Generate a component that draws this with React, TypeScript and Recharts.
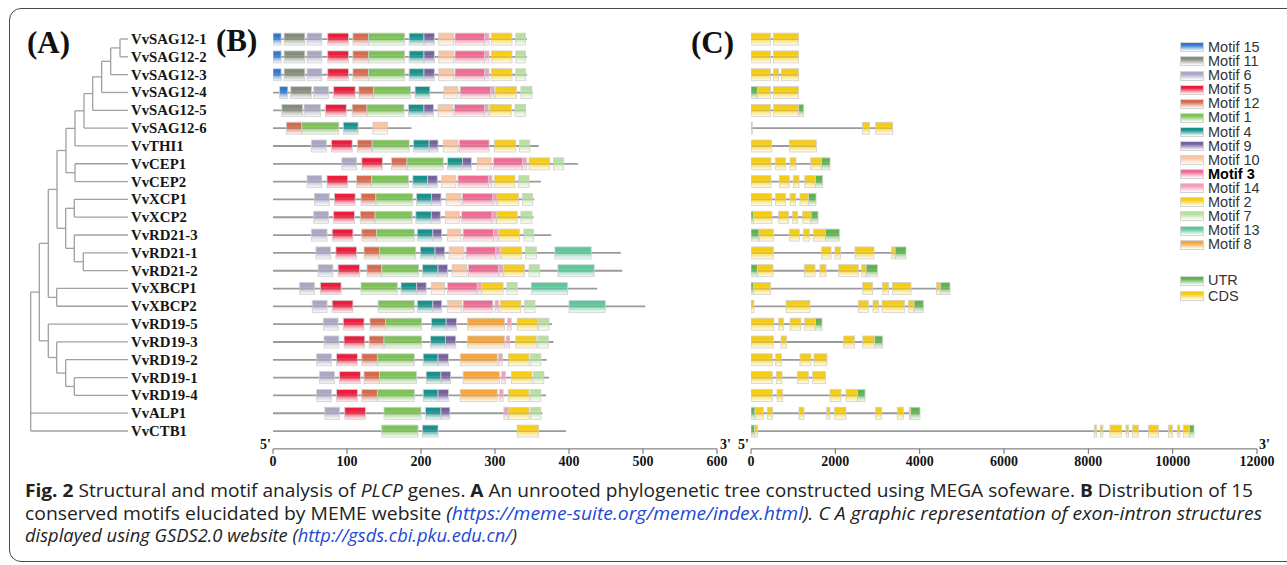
import React from "react";
import { BarChart, Bar, XAxis, YAxis, ScatterChart, Scatter, Legend } from "recharts";

const genes = [
  "VvSAG12-1", "VvSAG12-2", "VvSAG12-3", "VvSAG12-4", "VvSAG12-5", "VvSAG12-6",
  "VvTHI1", "VvCEP1", "VvCEP2", "VvXCP1", "VvXCP2", "VvRD21-3", "VvRD21-1",
  "VvRD21-2", "VvXBCP1", "VvXBCP2", "VvRD19-5", "VvRD19-3", "VvRD19-2",
  "VvRD19-1", "VvRD19-4", "VvALP1", "VvCTB1",
];

// protein length (aa)
const proteinLength = [343, 343, 343, 351, 342, 187, 359, 412, 362, 353, 352, 376, 470, 472, 438, 503, 377, 379, 370, 373, 369, 364, 396];

type R = [number, number] | null;
const _ = null;

const motif15: R[] = [[0, 11], [0, 11], [0, 11], [9, 20], _, _, _, _, _, _, _, _, _, _, _, _, _, _, _, _, _, _, _];
const motif11: R[] = [[15, 43], [15, 43], [15, 43], [24, 52], [12, 40], _, _, _, _, _, _, _, _, _, _, _, _, _, _, _, _, _, _];
const motif6: R[] = [[46, 66], [46, 66], [46, 66], [55, 75], [42, 64], _, [52, 72], [93, 113], [46, 66], [56, 76], [55, 75], [52, 73], [58, 78], [61, 81], [36, 56], [53, 73], [68, 88], [69, 89], [59, 79], [63, 83], [59, 79], [70, 90], _];
const motif5: R[] = [[74, 102], [74, 102], [74, 102], [82, 111], [71, 99], _, [79, 107], [120, 148], [73, 101], [83, 111], [82, 110], [80, 108], [85, 113], [88, 117], [64, 92], [80, 108], [95, 123], [96, 124], [86, 114], [90, 118], [86, 114], [97, 125], _];
const motif12: R[] = [[108, 129], [108, 129], [108, 129], [116, 136], [107, 127], [18, 39], [114, 134], [160, 181], [113, 133], [119, 139], [118, 138], [120, 140], [123, 144], [127, 147], _, _, [131, 152], [130, 150], [120, 141], [123, 144], [120, 141], _, _];
const motif1: R[] = [[129, 178], [129, 178], [129, 178], [136, 186], [127, 177], [39, 89], [134, 184], [181, 230], [133, 183], [139, 189], [138, 188], [140, 191], [144, 193], [147, 197], [119, 168], [142, 191], [152, 201], [150, 201], [141, 191], [144, 194], [141, 191], [150, 200], [147, 196]];
const motif4: R[] = [[184, 204], [184, 204], [184, 204], [192, 212], [183, 204], [95, 115], [190, 211], [236, 256], [189, 209], [194, 214], [193, 214], [195, 216], [199, 219], [202, 223], [173, 194], [195, 216], [214, 234], [213, 233], [203, 223], [207, 227], [203, 223], [206, 227], [202, 223]];
const motif9: R[] = [[204, 218], [204, 218], [204, 218], _, [204, 217], _, [211, 223], [256, 268], [209, 222], [214, 227], [214, 226], [216, 228], [219, 232], [223, 236], [194, 207], [216, 228], [234, 248], [233, 247], [223, 237], [227, 240], [223, 237], [227, 239], _];
const motif10: R[] = [[224, 244], [224, 244], [224, 244], [231, 250], [223, 243], [135, 155], [230, 250], [276, 295], [228, 247], [234, 254], [233, 252], [236, 254], [238, 258], [242, 262], [214, 232], [236, 255], _, _, _, _, _, _, _];
const motif3: R[] = [[246, 286], [246, 286], [246, 286], [253, 294], [245, 286], _, [252, 292], [298, 337], [250, 291], [256, 297], [255, 296], [257, 298], [261, 301], [264, 305], [236, 276], [257, 297], _, _, _, _, _, _, _];
const motif14: R[] = [[286, 292], [286, 292], [286, 292], [294, 299], [286, 291], _, _, [337, 343], [291, 296], [297, 303], [296, 302], [298, 304], [301, 307], [305, 311], [276, 282], [300, 305], [317, 322], [315, 320], [305, 310], [309, 314], [306, 311], [312, 318], _];
const motif2: R[] = [[295, 323], [295, 323], [295, 323], [301, 329], [293, 322], _, [299, 328], [346, 374], [299, 327], [303, 332], [302, 330], [305, 333], [308, 336], [312, 340], [282, 311], [307, 335], [330, 358], [328, 356], [318, 346], [322, 350], [318, 346], [318, 346], [330, 359]];
const motif7: R[] = [[328, 341], [328, 341], [328, 341], [335, 350], [327, 341], _, [333, 347], [379, 393], [332, 346], [337, 351], [335, 350], [339, 352], [341, 356], [346, 360], [316, 330], [340, 354], [359, 373], [358, 372], [348, 362], [352, 366], [348, 362], [348, 362], _];
const motif13: R[] = [_, _, _, _, _, _, _, _, _, _, _, _, [381, 430], [385, 434], [349, 398], [400, 449], _, _, _, _, _, _, _];
const motif8: R[] = [_, _, _, _, _, _, _, _, _, _, _, _, _, _, _, _, [263, 313], [263, 313], [253, 303], [257, 306], [253, 303], _, _];

const motifNames = ["Motif 15", "Motif 11", "Motif 6", "Motif 5", "Motif 12", "Motif 1", "Motif 4", "Motif 9", "Motif 10", "Motif 3", "Motif 14", "Motif 2", "Motif 7", "Motif 13", "Motif 8"];
const motifColors = ["#2f78d2", "#858c7c", "#a9a7c4", "#ec1c3c", "#d66a4c", "#7cc256", "#16918c", "#76619f", "#fbc4a0", "#ef6a92", "#f59bb8", "#f6cc14", "#b6e0a0", "#5cc79b", "#f6a43c"];
const motifSeries = [motif15, motif11, motif6, motif5, motif12, motif1, motif4, motif9, motif10, motif3, motif14, motif2, motif7, motif13, motif8];

// gene structures (bp)
const cdsExons: [number, number][][] = [
  [[0, 466], [530, 1130]],
  [[0, 466], [530, 1130]],
  [[0, 466], [530, 656], [719, 1130]],
  [[150, 466], [530, 1130]],
  [[0, 466], [538, 1130]],
  [[0, 30], [2640, 2814], [2957, 3360]],
  [[0, 490], [909, 1549]],
  [[0, 474], [577, 822], [925, 1067], [1415, 1668]],
  [[0, 474], [672, 909], [1004, 1138], [1273, 1526]],
  [[0, 490], [585, 822], [925, 1059], [1162, 1360]],
  [[55, 498], [656, 893], [988, 1107], [1225, 1423]],
  [[190, 530], [909, 1146], [1241, 1383], [1478, 1763]],
  [[0, 530], [1676, 1897], [1992, 2126], [2466, 2917], [3336, 3415]],
  [[150, 522], [1265, 1518], [1636, 1779], [2079, 2545], [2625, 2727]],
  [[55, 466], [2648, 2885], [3115, 3265], [3352, 3794], [4403, 4498]],
  [[0, 71], [830, 1399], [2545, 2783], [2893, 3028], [3107, 3644], [3731, 3866]],
  [[0, 545], [656, 775], [925, 1186], [1265, 1526]],
  [[0, 530], [711, 846], [2198, 2458], [2648, 2933]],
  [[0, 506], [585, 719], [1162, 1423], [1494, 1802]],
  [[0, 506], [601, 735], [1099, 1360], [1462, 1763]],
  [[0, 506], [617, 751], [1874, 2134], [2253, 2522]],
  [[95, 292], [387, 514], [1138, 1257], [1794, 1874], [1976, 2253], [2957, 3099], [3470, 3613], [3755, 3787]],
  [[87, 158], [8141, 8197], [8283, 8346], [8512, 8788], [8893, 8956], [9051, 9186], [9425, 9662], [9905, 10000], [10110, 10173], [10252, 10395]],
];
const utrExons: [number, number][][] = [
  [], [], [], [[0, 150]], [[1130, 1249]], [], [],
  [[1668, 1874]], [[1526, 1700]], [[1360, 1542]], [[0, 55], [1423, 1589]],
  [[0, 190], [1763, 2095]], [[3415, 3676]], [[0, 150], [2727, 2996]],
  [[0, 55], [4498, 4719]], [[3866, 4087]], [[1526, 1684]], [[2933, 3123]],
  [], [], [[2522, 2704]], [[0, 95], [3787, 4008]], [[0, 87], [10395, 10506]],
];

// tree: [node, children, branch position]
const leafTip = 128;
const treeJoins: [string, string[], number][] = [
  ["a1", ["VvSAG12-1", "VvSAG12-2"], 120],
  ["a2", ["a1", "VvSAG12-3"], 110.7],
  ["a3", ["a2", "VvSAG12-4"], 101.7],
  ["a4", ["a3", "VvSAG12-5"], 92.7],
  ["a5", ["a4", "VvSAG12-6"], 84],
  ["a6", ["a5", "VvTHI1"], 75],
  ["a7", ["VvCEP1", "VvCEP2"], 75],
  ["a8", ["a6", "a7"], 66],
  ["b1", ["VvXCP1", "VvXCP2"], 74.3],
  ["b2", ["VvRD21-1", "VvRD21-2"], 83.3],
  ["b3", ["VvRD21-3", "b2"], 74.3],
  ["b4", ["b1", "b3"], 65.7],
  ["b5", ["a8", "b4"], 57],
  ["b6", ["VvXBCP1", "VvXBCP2"], 56.7],
  ["b7", ["b5", "b6"], 48.3],
  ["c1", ["VvRD19-1", "VvRD19-4"], 74.3],
  ["c2", ["VvRD19-2", "c1"], 65.7],
  ["c3", ["VvRD19-3", "c2"], 56.7],
  ["c4", ["VvRD19-5", "c3"], 48.3],
  ["c5", ["b7", "c4"], 39.3],
  ["root", ["c5", "VvALP1", "VvCTB1"], 30.7],
];

const motifTicks = [0, 100, 200, 300, 400, 500, 600];
const geneTicks = [0, 2000, 4000, 6000, 8000, 10000, 12000];

const SERIF = "'Liberation Serif', 'Times New Roman', serif";
const SANS = "'Liberation Sans', Arial, sans-serif";

const motifRows = genes.map((gene, i) => {
  const row: any = { gene, span: [0, proteinLength[i]] };
  motifSeries.forEach((s, k) => {
    if (s[i]) row[`m${k}`] = s[i];
  });
  return row;
});

const maxCds = Math.max(...cdsExons.map((e) => e.length));
const maxUtr = Math.max(...utrExons.map((e) => e.length));
const structRows = genes.map((gene, i) => {
  const all = [...cdsExons[i], ...utrExons[i]];
  const row: any = { gene, span: [0, Math.max(...all.map((e) => e[1]))] };
  cdsExons[i].forEach((e, k) => (row[`c${k}`] = e));
  utrExons[i].forEach((e, k) => (row[`u${k}`] = e));
  return row;
});

// tree segments from joins, each one a two-point series
const treeSegments = (() => {
  const pos: Record<string, { x: number; y: number }> = {};
  genes.forEach((g, i) => (pos[g] = { x: leafTip, y: i }));
  const segs: { x: number; y: number }[][] = [];
  treeJoins.forEach(([id, kids, h]) => {
    const ys = kids.map((k) => pos[k].y);
    segs.push([{ x: h, y: Math.min(...ys) }, { x: h, y: Math.max(...ys) }]);
    kids.forEach((k) => segs.push([{ x: h, y: pos[k].y }, { x: pos[k].x, y: pos[k].y }]));
    pos[id] = { x: h, y: (ys[0] + ys[ys.length - 1]) / 2 };
  });
  return segs;
})();

function Gradients({ ids, colors }: { ids: string[]; colors: string[] }) {
  return (
    <defs>
      {ids.map((id, i) => (
        <linearGradient key={id} id={id} x1="0" y1="0" x2="0" y2="1">
          <stop offset="0%" stopColor={colors[i]} />
          <stop offset="30%" stopColor={colors[i]} />
          <stop offset="100%" stopColor={colors[i]} stopOpacity={0.04} />
        </linearGradient>
      ))}
    </defs>
  );
}

const boxShape = (fill: string) => (p: any) => {
  const { x, y, width, height } = p;
  if (![x, y, width, height].every(Number.isFinite) || width <= 0) return <g />;
  return <rect x={x} y={y} width={width} height={height} fill={fill} stroke="#cfcfcf" strokeWidth={0.8} />;
};

const lineShape = (p: any) => {
  const { x, y, width, height } = p;
  if (![x, y, width, height].every(Number.isFinite)) return <g />;
  return <line x1={x} x2={x + width} y1={y + height / 2} y2={y + height / 2} stroke="#9a9a9a" strokeWidth={1.8} />;
};

const noDot = () => <g />;

const GeneTick = ({ y, payload }: any) => (
  <text x={131} y={y} dy={5} fontFamily={SERIF} fontWeight="bold" fontSize={14.8} fill="#151515">
    {payload.value}
  </text>
);

const AxisTick = ({ x, y, payload }: any) => (
  <text x={x} y={y} dy={10.5} textAnchor="middle" fontFamily={SERIF} fontWeight="bold" fontSize={14} fill="#151515">
    {payload.value}
  </text>
);

const margins = { top: 30.1, bottom: 1.1 };

function TreeChart() {
  return (
    <div style={{ position: "absolute", left: 0, top: 0 }}>
      <ScatterChart width={140} height={480} margin={{ top: 30.1, right: 0, bottom: 40.1, left: 0 }}>
        <XAxis type="number" dataKey="x" domain={[0, 140]} hide allowDataOverflow />
        <YAxis type="number" dataKey="y" domain={[-0.5, 22.5]} reversed hide allowDataOverflow />
        {treeSegments.map((s, i) => (
          <Scatter
            key={i}
            data={s}
            line={{ stroke: "#a0a0a0", strokeWidth: 1.3 }}
            shape={noDot}
            isAnimationActive={false}
          />
        ))}
      </ScatterChart>
    </div>
  );
}

function MotifChart() {
  const ids = motifColors.map((_, k) => `grad-m${k}`);
  return (
    <div style={{ position: "absolute", left: 0, top: 0 }}>
      <BarChart
        width={730}
        height={480}
        data={motifRows}
        layout="vertical"
        barSize={12}
        barGap={-12}
        barCategoryGap={0}
        margin={{ top: margins.top, right: 13, bottom: margins.bottom, left: 0 }}
      >
        <Gradients ids={ids} colors={motifColors} />
        <XAxis
          type="number"
          domain={[0, 600]}
          ticks={motifTicks}
          interval={0}
          allowDataOverflow
          height={30}
          tickSize={5}
          axisLine={{ stroke: "#666" }}
          tickLine={{ stroke: "#666" }}
          tick={AxisTick}
        />
        <YAxis
          type="category"
          dataKey="gene"
          width={273}
          interval={0}
          axisLine={false}
          tickLine={false}
          tick={GeneTick}
          padding={{ top: 0, bottom: 9 }}
        />
        <Bar dataKey="span" isAnimationActive={false} shape={lineShape} />
        {motifSeries.map((_, k) => (
          <Bar key={k} dataKey={`m${k}`} isAnimationActive={false} shape={boxShape(`url(#${ids[k]})`)} />
        ))}
      </BarChart>
    </div>
  );
}

function LegendBox({ color }: { color: string }) {
  return (
    <span
      style={{
        display: "inline-block",
        width: 24,
        height: 10,
        marginRight: 4,
        verticalAlign: "middle",
        boxSizing: "border-box",
        border: "1px solid #d4d4d4",
        background: `linear-gradient(to bottom, ${color} 0%, ${color} 25%, #ffffff 100%)`,
      }}
    />
  );
}

function StructureLegend() {
  const row = (label: string, color: string, bold = false) => (
    <div key={label} style={{ height: 14.1, lineHeight: "14.1px", whiteSpace: "nowrap" }}>
      <LegendBox color={color} />
      <span
        style={{
          fontFamily: SANS,
          fontSize: 14.5,
          color: bold ? "#000" : "#333",
          fontWeight: bold ? "bold" : "normal",
          verticalAlign: "middle",
        }}
      >
        {label}
      </span>
    </div>
  );
  return (
    <div>
      {motifNames.map((n, k) => row(n, motifColors[k], n === "Motif 3"))}
      <div style={{ height: 22 }} />
      <div style={{ marginBottom: 1.6 }}>{row("UTR", "#5fb24f")}</div>
      {row("CDS", "#f5cc12")}
    </div>
  );
}

function StructureChart() {
  const cdsIds = Array.from({ length: maxCds }, (_, k) => k);
  const utrIds = Array.from({ length: maxUtr }, (_, k) => k);
  return (
    <div style={{ position: "absolute", left: 700, top: 0 }}>
      <BarChart
        width={600}
        height={480}
        data={structRows}
        layout="vertical"
        barSize={12}
        barGap={-12}
        barCategoryGap={0}
        margin={{ top: margins.top, right: 43, bottom: margins.bottom, left: 51 }}
      >
        <Gradients ids={["grad-cds", "grad-utr"]} colors={["#f5cc12", "#5fb24f"]} />
        <XAxis
          type="number"
          domain={[0, 12000]}
          ticks={geneTicks}
          interval={0}
          allowDataOverflow
          height={30}
          tickSize={5}
          axisLine={{ stroke: "#666" }}
          tickLine={{ stroke: "#666" }}
          tick={AxisTick}
        />
        <YAxis type="category" dataKey="gene" hide width={0} interval={0} padding={{ top: 0, bottom: 9 }} />
        <Legend
          layout="vertical"
          align="center"
          verticalAlign="middle"
          content={<StructureLegend />}
          wrapperStyle={{ position: "absolute", left: 480, top: 39, width: 100 }}
        />
        <Bar dataKey="span" isAnimationActive={false} shape={lineShape} />
        {utrIds.map((k) => (
          <Bar key={`u${k}`} dataKey={`u${k}`} isAnimationActive={false} shape={boxShape("url(#grad-utr)")} />
        ))}
        {cdsIds.map((k) => (
          <Bar key={`c${k}`} dataKey={`c${k}`} isAnimationActive={false} shape={boxShape("url(#grad-cds)")} />
        ))}
      </BarChart>
    </div>
  );
}

function Label({ text, left, top, size = 31 }: { text: string; left: number; top: number; size?: number }) {
  return (
    <div
      style={{
        position: "absolute",
        left,
        top,
        fontFamily: SERIF,
        fontWeight: "bold",
        fontSize: size,
        lineHeight: `${size}px`,
        color: "#111",
        whiteSpace: "nowrap",
      }}
    >
      {text}
    </div>
  );
}

function Caption() {
  const link = "#2449d4";
  const base = { fontFamily: "'Open Sans', 'Noto Sans', sans-serif", fontSize: 17.5, fill: "#222" };
  return (
    <svg width={1287} height={565} style={{ position: "absolute", left: 0, top: 0, pointerEvents: "none" }}>
      <text x={25} y={497} textLength={1228} lengthAdjust="spacingAndGlyphs" {...base}>
        <tspan fontWeight="bold">Fig. 2</tspan>
        <tspan>{"  Structural and motif analysis of "}</tspan>
        <tspan fontStyle="italic">PLCP</tspan>
        <tspan>{" genes. "}</tspan>
        <tspan fontWeight="bold">A</tspan>
        <tspan>{" An unrooted phylogenetic tree constructed using MEGA sofeware. "}</tspan>
        <tspan fontWeight="bold">B</tspan>
        <tspan>{" Distribution of 15"}</tspan>
      </text>
      <text x={25} y={519.5} textLength={1237} lengthAdjust="spacingAndGlyphs" {...base}>
        <tspan>{"conserved motifs elucidated by MEME website "}</tspan>
        <tspan fontStyle="italic">(</tspan>
        <tspan fontStyle="italic" fill={link}>https://meme-suite.org/meme/index.html</tspan>
        <tspan fontStyle="italic">{"). C A graphic representation of exon-intron structures"}</tspan>
      </text>
      <text x={25} y={542} textLength={492} lengthAdjust="spacingAndGlyphs" {...base} fontStyle="italic">
        <tspan>{"displayed using GSDS2.0 website ("}</tspan>
        <tspan fill={link}>http://gsds.cbi.pku.edu.cn/</tspan>
        <tspan>)</tspan>
      </text>
    </svg>
  );
}

export default function App() {
  return (
    <div style={{ position: "absolute", left: 0, top: 0, width: 1287, height: 565, background: "#fff", overflow: "hidden" }}>
      <div
        style={{
          position: "absolute",
          left: 9,
          top: 8,
          width: 1300,
          height: 554,
          border: "1.2px solid #4a4a4a",
          borderRadius: 12,
          boxSizing: "border-box",
        }}
      />
      <Label text="(A)" left={27} top={27} />
      <Label text="(B)" left={216} top={25} />
      <Label text="(C)" left={691} top={27} />
      <TreeChart />
      <MotifChart />
      <StructureChart />
      <Label text="5'" left={260} top={438} size={14} />
      <Label text="3'" left={720} top={438} size={14} />
      <Label text="5'" left={738} top={438} size={14} />
      <Label text="3'" left={1259} top={438} size={14} />
      <Caption />
    </div>
  );
}
